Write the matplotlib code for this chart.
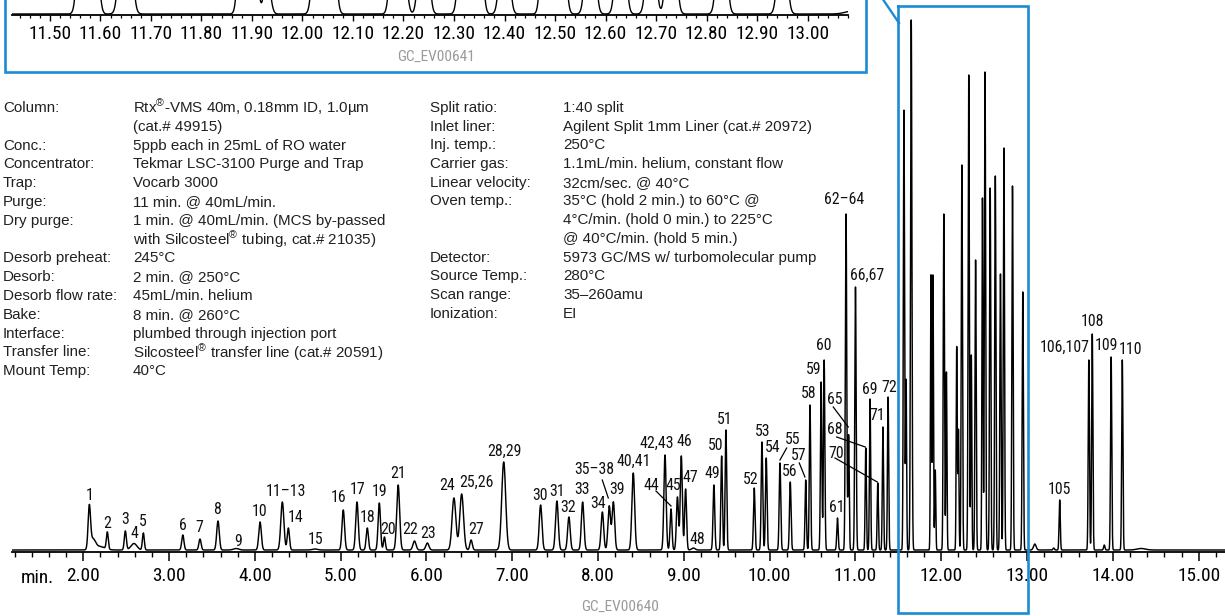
import numpy as np
import matplotlib
matplotlib.use("Agg")
import matplotlib.pyplot as plt
from matplotlib.lines import Line2D
from matplotlib.ticker import MultipleLocator, FixedLocator
from matplotlib import font_manager as fm

# ---------------- data: peaks (retention time [min], height, width sigma [min]) ----------------
peak_time = [2.07, 2.11, 2.19, 2.28, 2.49, 2.59, 2.70, 3.16, 3.36, 3.57, 3.78, 4.06, 4.32, 4.39,
             4.70, 5.03, 5.19, 5.31, 5.45, 5.51, 5.67, 5.86, 6.01, 6.32, 6.41, 6.52, 6.90,
             7.33, 7.52, 7.66, 7.82, 8.05, 8.13, 8.178, 8.41, 8.78, 8.85, 8.925, 8.97, 9.02,
             9.11, 9.35, 9.44, 9.49, 9.82, 9.91, 9.96, 10.12, 10.24, 10.42, 10.47, 10.60,
             10.635, 10.79, 10.89, 10.92, 11.00, 11.12, 11.17, 11.26, 11.32, 11.38,
             11.565, 11.59, 11.65, 11.88, 11.903, 11.93, 12.03, 12.06, 12.18, 12.20, 12.24,
             12.32, 12.35, 12.40, 12.48, 12.51, 12.57, 12.63, 12.69, 12.73, 12.83, 12.95,
             13.09, 13.31, 13.38, 13.72, 13.76, 13.90, 13.98, 14.11, 14.33]
peak_height = [41, 10, 3.5, 17, 19, 6.5, 17, 15, 11, 29, 1.5, 28, 48, 22,
               1.0, 40, 48, 22, 47, 13, 65, 9, 7, 52, 56, 10, 88,
               45, 49, 33, 48, 38, 44, 48, 77, 95, 41, 53, 94, 61,
               2, 65, 94, 120, 62, 108, 92, 87, 68, 70, 145, 168,
               190, 32, 336, 115, 263, 102, 151, 67, 123, 153,
               440, 170, 530, 275, 275, 80, 336, 178, 203, 120, 385,
               475, 195, 290, 352, 478, 362, 374, 276, 402, 364, 258,
               6, 2, 50, 190, 216, 5, 193, 190, 1.5]
peak_sigma = [0.014, 0.03, 0.06, 0.011, 0.012, 0.035, 0.011, 0.013, 0.013, 0.015, 0.03, 0.015, 0.018, 0.013,
              0.03, 0.015, 0.015, 0.013, 0.014, 0.011, 0.017, 0.018, 0.018, 0.022, 0.022, 0.014, 0.023,
              0.016, 0.016, 0.015, 0.015, 0.015, 0.015, 0.015, 0.016, 0.013, 0.011, 0.012, 0.012, 0.011,
              0.02, 0.010, 0.009, 0.009, 0.009, 0.009, 0.009, 0.009, 0.009, 0.008, 0.008, 0.008,
              0.008, 0.008, 0.008, 0.007, 0.008, 0.007, 0.007, 0.007, 0.007, 0.007,
              0.007, 0.006, 0.008, 0.006, 0.006, 0.006, 0.007, 0.006, 0.006, 0.006, 0.007,
              0.007, 0.006, 0.007, 0.006, 0.007, 0.007, 0.007, 0.007, 0.007, 0.007, 0.007,
              0.015, 0.008, 0.007, 0.007, 0.007, 0.008, 0.007, 0.007, 0.05]

# peak labels
label_text = ["1", "2", "3", "4", "5", "6", "7", "8", "9", "10", "11\u201313", "14", "15", "16", "17",
              "18", "19", "20", "21", "22", "23", "24", "25,26", "27", "28,29", "30", "31", "32",
              "33", "34", "35\u201338", "39", "40,41", "42,43", "44", "45", "46", "47", "48", "49",
              "50", "51", "52", "53", "54", "55", "56", "57", "58", "59", "60", "61", "62\u201364",
              "65", "66,67", "68", "69", "70", "71", "72", "105", "106,107", "108", "109", "110"]
# label anchor positions (min, intensity)
label_pos = [(2.070, 55), (2.273, 27), (2.486, 30), (2.594, 17), (2.692, 28), (3.162, 25), (3.352, 22),
             (3.562, 40), (3.800, 9), (4.059, 38), (4.362, 59), (4.479, 32), (4.712, 10), (4.980, 52),
             (5.193, 60), (5.315, 33), (5.450, 58), (5.555, 21), (5.664, 77), (5.808, 21), (6.014, 17),
             (6.239, 65), (6.577, 68), (6.573, 21), (6.903, 99), (7.323, 55), (7.524, 58), (7.653, 43),
             (7.816, 60), (7.995, 47), (7.952, 80), (8.224, 60), (8.410, 89), (8.683, 107), (8.625, 65),
             (8.876, 65), (9.001, 108), (9.079, 72), (9.156, 10), (9.336, 76), (9.374, 105),
             (9.479, 131), (9.782, 71), (9.914, 118), (10.035, 102), (10.263, 111), (10.228, 78),
             (10.342, 95), (10.458, 157), (10.508, 181), (10.633, 205), (10.781, 43), (10.870, 351),
             (10.753, 150), (11.131, 275), (10.753, 121), (11.168, 161), (10.772, 97), (11.254, 134),
             (11.394, 162), (13.375, 61), (13.440, 203), (13.765, 228), (13.925, 204), (14.205, 200)]
# leader lines for some labels
leader_lines = [((8.049, 70), (8.119, 52)), ((8.675, 59), (8.850, 44)), ((10.198, 102), (10.120, 90)),
                ((10.345, 87), (10.411, 73)), ((10.741, 143), (10.916, 123)),
                ((10.781, 113), (11.114, 103)), ((10.761, 92), (11.254, 68))]

main_ticks = list(range(2, 16))
inset_ticks = [round(11.5 + 0.1 * i, 2) for i in range(16)]

left_labels = ["Column:", "", "Conc.:", "Concentrator:", "Trap:", "Purge:", "Dry purge:", "",
               "Desorb preheat:", "Desorb:", "Desorb flow rate:", "Bake:", "Interface:",
               "Transfer line:", "Mount Temp:"]
left_values = ["Rtx$^{\u00ae}$-VMS 40m, 0.18mm ID, 1.0\u00b5m", "(cat.# 49915)",
               "5ppb each in 25mL of RO water", "Tekmar LSC-3100 Purge and Trap", "Vocarb 3000",
               "11 min. @ 40mL/min.", "1 min. @ 40mL/min. (MCS by-passed",
               "with Silcosteel$^{\u00ae}$ tubing, cat.# 21035)", "245\u00b0C", "2 min. @ 250\u00b0C",
               "45mL/min. helium", "8 min. @ 260\u00b0C", "plumbed through injection port",
               "Silcosteel$^{\u00ae}$ transfer line (cat.# 20591)", "40\u00b0C"]
right_labels = ["Split ratio:", "Inlet liner:", "Inj. temp.:", "Carrier gas:", "Linear velocity:",
                "Oven temp.:", "", "", "Detector:", "Source Temp.:", "Scan range:", "Ionization:"]
right_values = ["1:40 split", "Agilent Split 1mm Liner (cat.# 20972)", "250\u00b0C",
                "1.1mL/min. helium, constant flow", "32cm/sec. @ 40\u00b0C",
                "35\u00b0C (hold 2 min.) to 60\u00b0C @", "4\u00b0C/min. (hold 0 min.) to 225\u00b0C",
                "@ 40\u00b0C/min. (hold 5 min.)", "5973 GC/MS w/ turbomolecular pump", "280\u00b0C",
                "35\u2013260amu", "EI"]


# ---------------- fonts ----------------
def pick_condensed():
    fl = fm.fontManager.ttflist
    names = {f.name for f in fl}
    for n in ['Liberation Sans Narrow', 'Roboto Condensed', 'Open Sans Condensed',
              'Noto Sans Condensed', 'Noto Sans SemiCondensed', 'DejaVu Sans Condensed',
              'Arial Narrow', 'Lato Condensed']:
        if n in names:
            return n, 'normal'
    for f in fl:
        if (str(f.stretch) in ('condensed', 'semi-condensed', 'extra-condensed')
                and 'Mono' not in f.name and 'Serif' not in f.name and 'CJK' not in f.name):
            return f.name, str(f.stretch)
    return 'Liberation Sans', 'normal'


COND, STRETCH = pick_condensed()
plt.rcParams['font.family'] = [COND, 'DejaVu Sans']
plt.rcParams['font.stretch'] = STRETCH
plt.rcParams['mathtext.fontset'] = 'custom'
plt.rcParams['mathtext.rm'] = 'Liberation Sans'
plt.rcParams['mathtext.it'] = 'Liberation Sans:italic'

W, H = 1225, 616
fig = plt.figure(figsize=(12.25, 6.16), dpi=100)
fig.patch.set_facecolor('white')
renderer = fig.canvas.get_renderer()


def fit_size(sample, target_px, max_pt):
    probe = fig.text(0, 0, sample, fontsize=100)
    w = probe.get_window_extent(renderer=renderer).width
    probe.remove()
    return min(max_pt, 100 * target_px / w)


LBL_SIZE = fit_size("106,107", 50, 12.6)
TICK_SIZE = fit_size("15.00", 43, 15.0)
GC_SIZE = fit_size("GC_EV00640", 78, 11.5)


def fx(px):
    return px / W


def fy(py):
    return 1 - py / H


BLUE = '#1d8bd2'
TXT = '#231f20'

# ---------------- build trace ----------------
t = np.arange(1.16, 15.32, 0.0004)
signal = np.zeros_like(t)
for t0, h0, s0 in zip(peak_time, peak_height, peak_sigma):
    signal += h0 * np.exp(-0.5 * ((t - t0) / s0) ** 2)

# ---------------- main chromatogram ----------------
ax = fig.add_axes([fx(12), fy(552), fx(1225) - fx(12), 552 / H])
ax.set_facecolor('none')
ax.plot(t, signal, color='black', lw=1.05, solid_joinstyle='round')
ax.set_xlim(1.169, 15.307)
ax.set_ylim(-2, 550)
for s in ['top', 'left', 'right']:
    ax.spines[s].set_visible(False)
ax.spines['bottom'].set_linewidth(1.3)
ax.set_yticks([])
ax.xaxis.set_major_locator(FixedLocator(main_ticks))
ax.set_xticklabels([f"{v:.2f}" for v in main_ticks])
ax.xaxis.set_minor_locator(MultipleLocator(0.2))
ax.tick_params(axis='x', which='major', length=6.5, width=1.1, direction='out', pad=4,
               labelsize=TICK_SIZE, colors='black')
ax.tick_params(axis='x', which='minor', length=3.6, width=1.0, direction='out')
fig.text(fx(37), fy(578), "min.", ha='center', va='center', fontsize=TICK_SIZE)

for txt, (lx, ly) in zip(label_text, label_pos):
    ax.text(lx, ly, txt, ha='center', va='center', fontsize=LBL_SIZE, color='#111111')
for (p1, p2) in leader_lines:
    ax.plot([p1[0], p2[0]], [p1[1], p2[1]], color='black', lw=0.9)

# ---------------- inset (top, cropped) ----------------
ins = fig.add_axes([fx(12), fy(15), fx(848) - fx(12), 300 / H])
ins.set_facecolor('none')
ins.plot(t, signal, color='black', lw=1.0)
ins.set_xlim(11.425, 13.08)
ins.set_ylim(-2, 598)
for s in ['top', 'left', 'right']:
    ins.spines[s].set_visible(False)
ins.spines['bottom'].set_linewidth(1.3)
ins.set_yticks([])
ins.xaxis.set_major_locator(FixedLocator(inset_ticks))
ins.set_xticklabels([f"{v:.2f}" for v in inset_ticks])
ins.xaxis.set_minor_locator(MultipleLocator(0.02))
ins.tick_params(axis='x', which='major', length=4.5, width=1.0, direction='out', pad=2.5,
                labelsize=TICK_SIZE)
ins.tick_params(axis='x', which='minor', length=2.5, width=0.9, direction='out')

fig.text(fx(436), fy(57), "GC_EV00641", ha='center', va='center', fontsize=GC_SIZE, color='#9a9a9a')
fig.text(fx(620), fy(607), "GC_EV00640", ha='center', va='center', fontsize=GC_SIZE, color='#9a9a9a')

# ---------------- method text ----------------
TFONT = dict(fontsize=10.9, color=TXT, family=['Liberation Sans', 'DejaVu Sans'], stretch='normal')
for i, (a, b) in enumerate(zip(left_labels, left_values)):
    yy = 108 + i * 18.8
    if a:
        fig.text(fx(3), fy(yy), a, ha='left', va='center', **TFONT)
    fig.text(fx(133), fy(yy), b, ha='left', va='center', **TFONT)
for i, (a, b) in enumerate(zip(right_labels, right_values)):
    yy = 108 + i * 18.7
    if a:
        fig.text(fx(430), fy(yy), a, ha='left', va='center', **TFONT)
    fig.text(fx(563), fy(yy), b, ha='left', va='center', **TFONT)


# ---------------- blue frames ----------------
def fig_line(pts, lw=1.9):
    xs = [fx(p[0]) for p in pts]
    ys = [fy(p[1]) for p in pts]
    fig.add_artist(Line2D(xs, ys, color=BLUE, lw=lw, transform=fig.transFigure, zorder=10,
                          solid_joinstyle='miter'))


fig_line([(5, -5), (5, 72), (866, 72), (866, -5)])
fig_line([(898, 6), (1028, 6), (1028, 613), (898, 613), (898, 6)])
fig_line([(882, -2), (899, 23)], lw=1.7)

fig.savefig("out.png", dpi=100, facecolor='white')
